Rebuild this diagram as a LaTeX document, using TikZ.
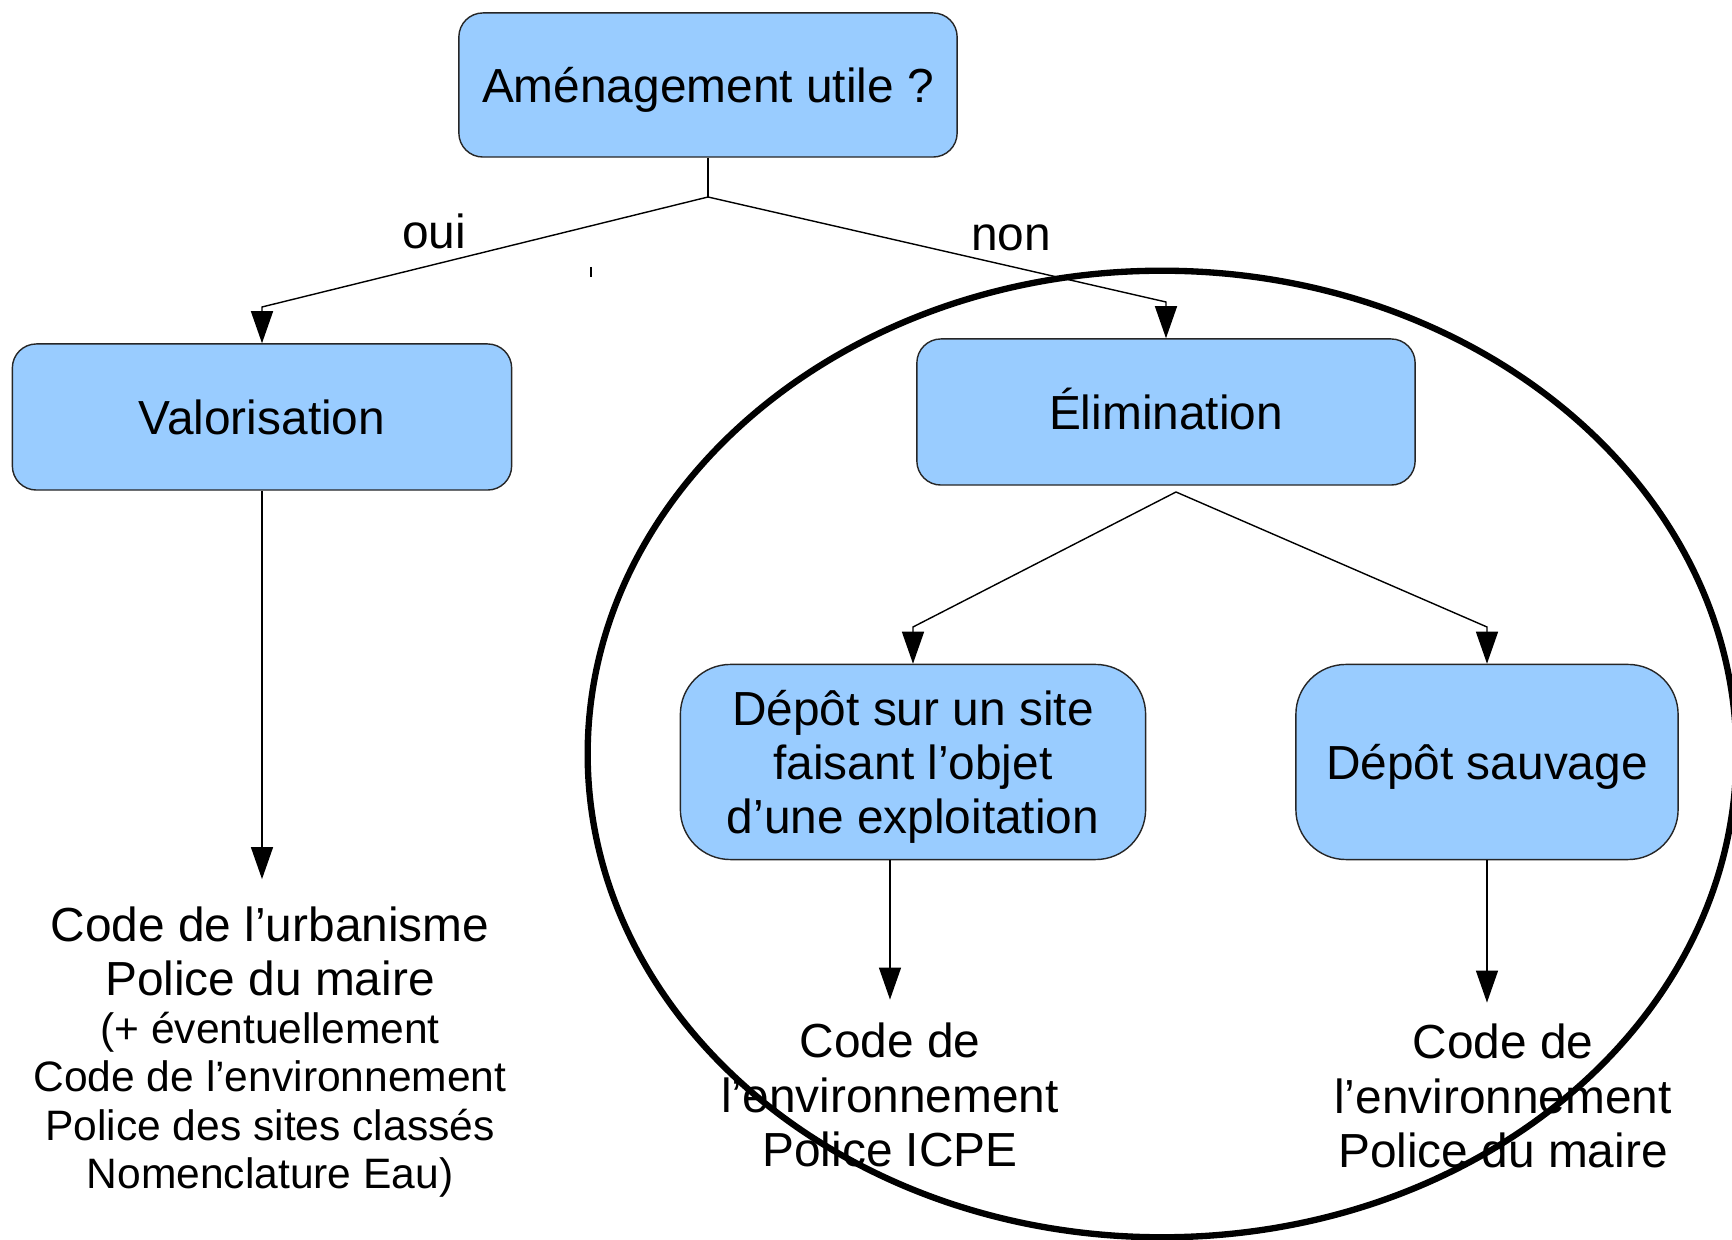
\documentclass[tikz,border=0pt]{standalone}
\usepackage{fontspec}
\setmainfont{Liberation Sans}
\usetikzlibrary{arrows.meta,positioning,calc}
\definecolor{boxblue}{HTML}{99CCFF}
\tikzset{
  box/.style={draw=black!85, thin, fill=boxblue, rounded corners=0.24cm, align=center, inner sep=0pt, text depth=0pt, font=\fontsize{13.6}{15.4}\selectfont},
  oneline/.style={box, text height=9.8pt},
  bigbox/.style={box, rounded corners=0.5cm, minimum height=1.95cm},
  flow/.style={thin, -{Triangle[length=0.32cm,width=0.22cm]}},
  legal/.style={align=center, inner sep=0pt, font=\fontsize{13.6}{15.4}\selectfont}
}
\begin{document}
\begin{tikzpicture}[x=0.01cm,y=-0.01cm]
\useasboundingbox (0,0) rectangle (1732,1240);
\node[oneline, minimum width=4.98cm, minimum height=1.44cm] (amen) at (708,85) {Aménagement utile ?};
\node[oneline, minimum width=4.99cm, minimum height=1.46cm] (valo) at (262,417) {Valorisation};
\node[oneline, minimum width=4.98cm, minimum height=1.46cm] (elim) at (1166,412) {Élimination};
\node[bigbox, minimum width=4.65cm] (depotsite) at (913,762) {Dépôt sur un site\\faisant l’objet\\d’une exploitation};
\node[bigbox, minimum width=3.82cm] (depotsauv) at (1487,762) {Dépôt sauvage};
\node[legal, align=flush center, text width=5cm, inner ysep=0.27cm] (codeurba) at (270,1052) {Code de l’urbanisme\\Police du maire\par\fontsize{12.1}{13.7}\selectfont(+ éventuellement\\Code de l’environnement\\Police des sites classés\\Nomenclature Eau)\par};
\node[legal, inner ysep=0.23cm] (codeicpe) at (890,1095) {Code de\\l’environnement\\Police ICPE};
\node[legal, inner ysep=0.21cm] (codemaire) at (1503,1096) {Code de\\l’environnement\\Police du maire};
\node[legal] (oui) at (434,231) {oui};
\node[legal] (non) at (1011,238) {non};
\coordinate (fork) at (708,197);
\coordinate (ouibend) at (262,307);
\coordinate (nonbend) at (1166,302);
\coordinate (elimfork) at (1176,492);
\coordinate (sitebend) at (913,627);
\coordinate (sauvbend) at (1487,627);
\draw[thin] (amen.south) -- (fork);
\draw[flow] (fork) -- (ouibend) -- (valo.north);
\draw[flow] (fork) -- (nonbend) -- (elim.north);
\draw[flow] (elimfork) -- (sitebend) -- (depotsite.north);
\draw[flow] (elimfork) -- (sauvbend) -- (depotsauv.north);
\draw[flow] (valo.south) -- (valo.south |- codeurba.north);
\draw[flow] (depotsite.south -| codeicpe.north) -- (codeicpe.north);
\draw[flow] (depotsauv.south) -- (depotsauv.south |- codemaire.north);
\draw[thin] (591,267) -- (591,277);
\draw[line width=1.8pt] (1162,754) ellipse [x radius=5.74cm, y radius=4.83cm];
\end{tikzpicture}
\end{document}
